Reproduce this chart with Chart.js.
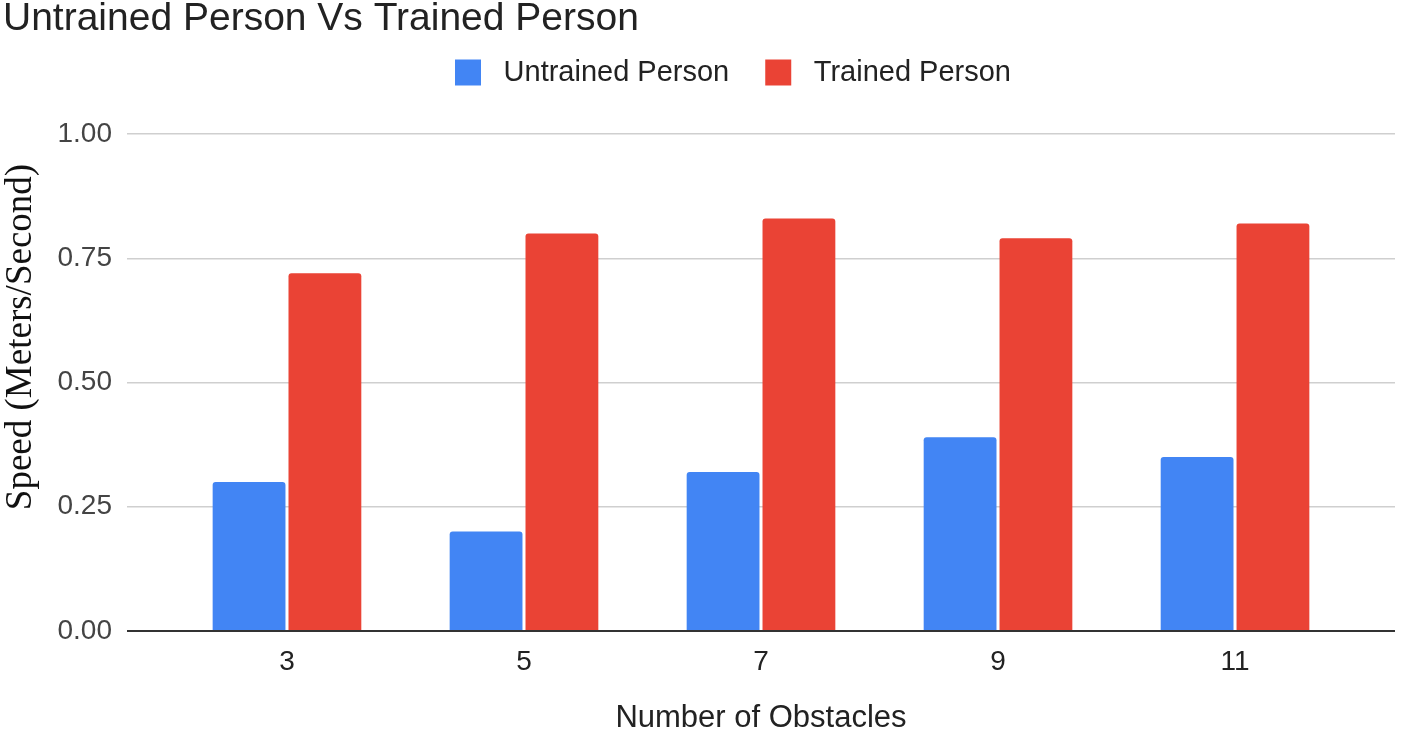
<!DOCTYPE html>
<html>
<head>
<meta charset="utf-8">
<script src="https://cdn.jsdelivr.net/npm/chart.js@4.4.1/dist/chart.umd.min.js"></script>
<style>
  html, body { margin: 0; padding: 0; background: #fff; }
  #wrap { width: 1416px; height: 734px; }
</style>
</head>
<body>
<div id="wrap"><canvas id="speedChart" width="1416" height="734"></canvas></div>
<script>
// Data
const obstacles = [3, 5, 7, 9, 11];
const untrainedSpeed = [0.30, 0.20, 0.32, 0.39, 0.35];
const trainedSpeed = [0.72, 0.80, 0.83, 0.79, 0.82];
const speedTicks = [0, 0.25, 0.5, 0.75, 1];

const SANS = '"Liberation Sans", Arial, sans-serif';

// Move the legend to where Google Charts puts it
const legendShift = {
  id: 'legendShift',
  afterLayout(chart) {
    const lg = chart.legend;
    lg.left += 34; lg.right += 34;
    lg.top -= 37; lg.bottom -= 37;
  }
};

// Serif y-axis title, sitting a little above the plot's middle
const yTitle = {
  id: 'yTitle',
  afterDraw(chart) {
    const ctx = chart.ctx;
    ctx.save();
    ctx.translate(21, 337);
    ctx.rotate(-Math.PI / 2);
    ctx.font = '37px "Liberation Serif", "Times New Roman", serif';
    ctx.fillStyle = '#111';
    ctx.textAlign = 'center';
    ctx.textBaseline = 'middle';
    ctx.fillText('Speed (Meters/Second)', 0, 0);
    ctx.restore();
  }
};

const ctx = document.getElementById('speedChart').getContext('2d');
new Chart(ctx, {
  type: 'bar',
  data: {
    datasets: [{
      label: ' Untrained Person',
      data: obstacles.map((x, i) => ({ x: x, y: untrainedSpeed[i] })),
      backgroundColor: '#4285f4',
      borderRadius: { topLeft: 3, topRight: 3 },
      borderSkipped: 'start'
    }, {
      label: ' Trained Person',
      data: obstacles.map((x, i) => ({ x: x, y: trainedSpeed[i] })),
      backgroundColor: '#ea4335',
      borderRadius: { topLeft: 3, topRight: 3 },
      borderSkipped: 'start'
    }]
  },
  options: {
    responsive: false,
    animation: false,
    devicePixelRatio: 1,
    categoryPercentage: 0.64,
    barPercentage: 0.96,
    layout: { padding: { left: 3, right: 21, top: 0, bottom: 0 } },
    plugins: {
      tooltip: { enabled: false },
      title: {
        display: true,
        text: 'Untrained Person Vs Trained Person',
        align: 'start',
        color: '#222',
        font: { family: SANS, size: 39, weight: 'normal', lineHeight: 1 },
        padding: { top: 0, bottom: 20 }
      },
      legend: {
        display: true,
        position: 'top',
        labels: {
          boxWidth: 26,
          boxHeight: 26,
          padding: 36,
          color: '#222',
          font: { family: SANS, size: 29 }
        }
      }
    },
    scales: {
      x: {
        type: 'linear',
        offset: false,
        min: 1.65,
        max: 12.35,
        afterBuildTicks: (scale) => {
          scale.ticks = obstacles.map(v => ({ value: v }));
        },
        afterFit: (scale) => { scale.height = 103; },
        grid: { display: false, drawTicks: false },
        border: { display: false },
        ticks: {
          padding: 14,
          color: '#222',
          font: { family: SANS, size: 28 },
          callback: (v) => String(v)
        },
        title: {
          display: true,
          text: 'Number of Obstacles',
          color: '#222',
          font: { family: SANS, size: 31, lineHeight: 1 },
          padding: { top: 0, bottom: 0 }
        }
      },
      y: {
        min: 0,
        max: 1,
        afterBuildTicks: (scale) => {
          scale.ticks = speedTicks.map(v => ({ value: v }));
        },
        afterFit: (scale) => { scale.width = 124; },
        border: { display: false },
        grid: {
          drawTicks: false,
          color: (c) => (c.tick && c.tick.value === 0 ? '#333' : '#cfcfcf'),
          lineWidth: (c) => (c.tick && c.tick.value === 0 ? 2 : 1.5)
        },
        ticks: {
          padding: 15,
          color: '#444',
          font: { family: SANS, size: 28 },
          callback: (v) => Number(v).toFixed(2)
        }
      }
    }
  },
  plugins: [legendShift, yTitle]
});
</script>
</body>
</html>
